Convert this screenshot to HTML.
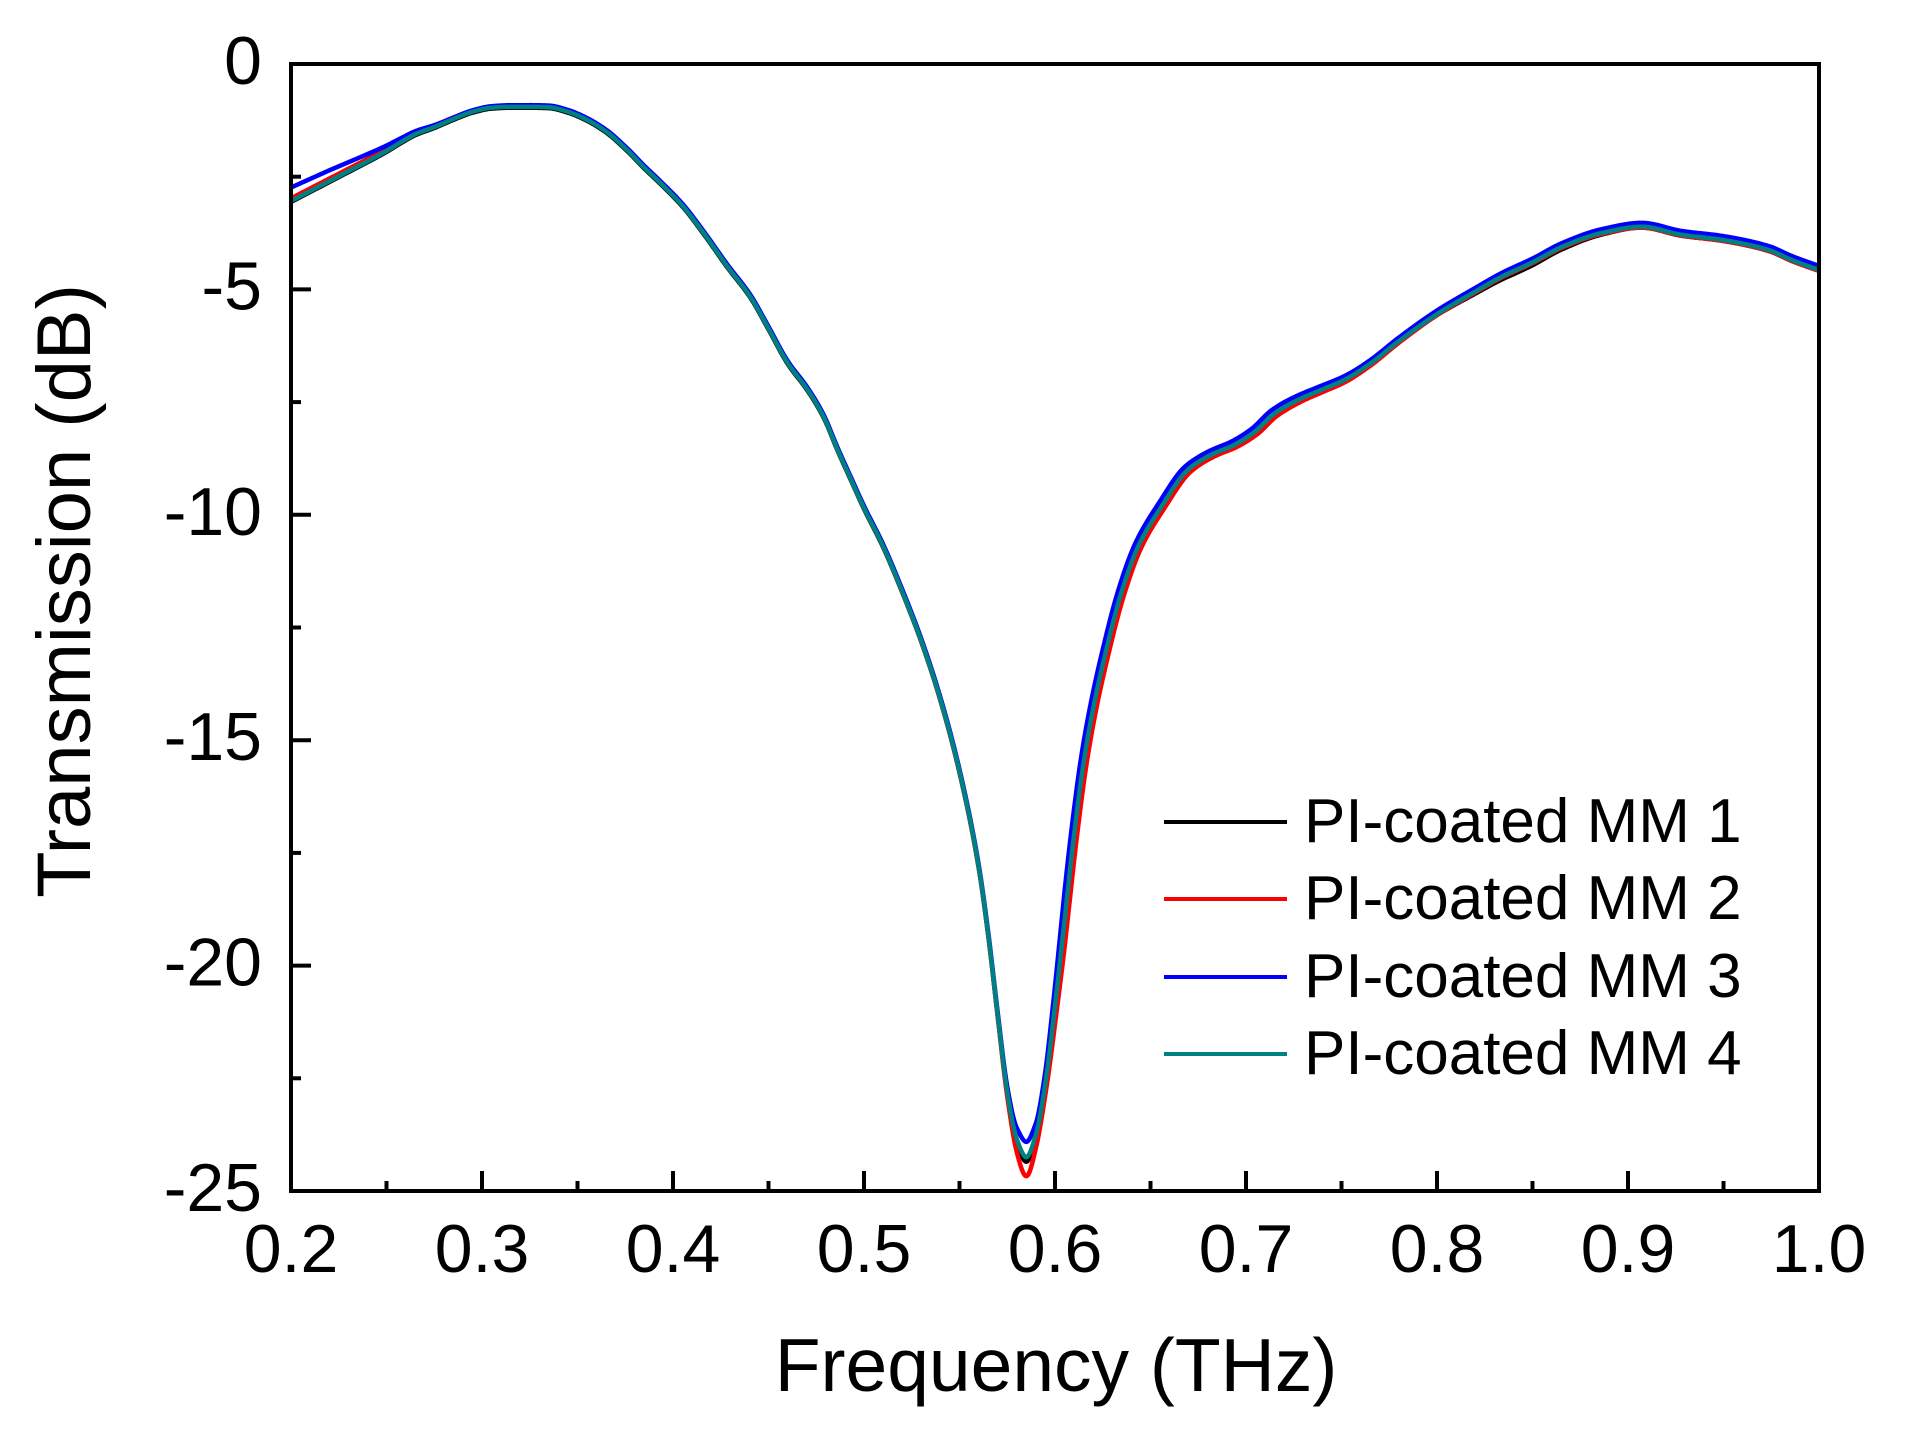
<!DOCTYPE html>
<html>
<head>
<meta charset="utf-8">
<style>
  html,body{margin:0;padding:0;background:#fff;}
  svg{display:block;}
  text{font-family:"Liberation Sans", Arial, sans-serif; fill:#000;}
</style>
</head>
<body>
<svg id="chart" width="1905" height="1431" viewBox="0 0 1905 1431" xmlns="http://www.w3.org/2000/svg">
  <rect x="0" y="0" width="1905" height="1431" fill="#fff"/>
  <defs>
    <clipPath id="plotclip"><rect x="291" y="64" width="1528" height="1127"/></clipPath>
  </defs>

  <!-- curves -->
  <g clip-path="url(#plotclip)" fill="none" stroke-width="4.5" stroke-linejoin="round" stroke-linecap="round">
    <path id="s1" stroke="#000000" d=""/>
    <path id="s2" stroke="#ff0000" d=""/>
    <path id="s3" stroke="#0000ff" d=""/>
    <path id="s4" stroke="#008080" d=""/>
  </g>

  <!-- frame -->
  <rect x="291" y="64" width="1528" height="1127" fill="none" stroke="#000" stroke-width="4"/>

  <!-- x ticks -->
  <g stroke="#000" stroke-width="4">
    <line x1="482" y1="1191" x2="482" y2="1171"/>
    <line x1="673" y1="1191" x2="673" y2="1171"/>
    <line x1="864" y1="1191" x2="864" y2="1171"/>
    <line x1="1055" y1="1191" x2="1055" y2="1171"/>
    <line x1="1246" y1="1191" x2="1246" y2="1171"/>
    <line x1="1437" y1="1191" x2="1437" y2="1171"/>
    <line x1="1628" y1="1191" x2="1628" y2="1171"/>
    <line x1="386.5" y1="1191" x2="386.5" y2="1181"/>
    <line x1="577.5" y1="1191" x2="577.5" y2="1181"/>
    <line x1="768.5" y1="1191" x2="768.5" y2="1181"/>
    <line x1="959.5" y1="1191" x2="959.5" y2="1181"/>
    <line x1="1150.5" y1="1191" x2="1150.5" y2="1181"/>
    <line x1="1341.5" y1="1191" x2="1341.5" y2="1181"/>
    <line x1="1532.5" y1="1191" x2="1532.5" y2="1181"/>
    <line x1="1723.5" y1="1191" x2="1723.5" y2="1181"/>
  </g>
  <!-- y ticks -->
  <g stroke="#000" stroke-width="4">
    <line x1="291" y1="289.4" x2="311" y2="289.4"/>
    <line x1="291" y1="514.8" x2="311" y2="514.8"/>
    <line x1="291" y1="740.2" x2="311" y2="740.2"/>
    <line x1="291" y1="965.6" x2="311" y2="965.6"/>
    <line x1="291" y1="176.7" x2="301" y2="176.7"/>
    <line x1="291" y1="402.1" x2="301" y2="402.1"/>
    <line x1="291" y1="627.5" x2="301" y2="627.5"/>
    <line x1="291" y1="852.9" x2="301" y2="852.9"/>
    <line x1="291" y1="1078.3" x2="301" y2="1078.3"/>
  </g>

  <!-- y tick labels -->
  <g font-size="68" text-anchor="end">
    <text x="262" y="84">0</text>
    <text x="262" y="309.4">-5</text>
    <text x="262" y="534.8">-10</text>
    <text x="262" y="760.2">-15</text>
    <text x="262" y="985.6">-20</text>
    <text x="262" y="1211">-25</text>
  </g>
  <!-- x tick labels -->
  <g font-size="68" text-anchor="middle">
    <text x="291" y="1272">0.2</text>
    <text x="482" y="1272">0.3</text>
    <text x="673" y="1272">0.4</text>
    <text x="864" y="1272">0.5</text>
    <text x="1055" y="1272">0.6</text>
    <text x="1246" y="1272">0.7</text>
    <text x="1437" y="1272">0.8</text>
    <text x="1628" y="1272">0.9</text>
    <text x="1819" y="1272">1.0</text>
  </g>

  <!-- axis titles -->
  <text x="1056" y="1391" font-size="75" text-anchor="middle">Frequency (THz)</text>
  <text transform="translate(90,591) rotate(-90)" font-size="76" text-anchor="middle">Transmission (dB)</text>

  <!-- legend -->
  <g stroke-width="4">
    <line x1="1164" y1="822" x2="1287" y2="822" stroke="#000000"/>
    <line x1="1164" y1="899" x2="1287" y2="899" stroke="#ff0000"/>
    <line x1="1164" y1="977" x2="1287" y2="977" stroke="#0000ff"/>
    <line x1="1164" y1="1054" x2="1287" y2="1054" stroke="#008080"/>
  </g>
  <g font-size="62">
    <text x="1304" y="842">PI-coated MM 1</text>
    <text x="1304" y="919">PI-coated MM 2</text>
    <text x="1304" y="997">PI-coated MM 3</text>
    <text x="1304" y="1074">PI-coated MM 4</text>
  </g>
</svg>

<script>
(function(){
  var X0=291,X1=1819,Y0=64,Y1=1191;
  function px(x){return X0+(x-0.2)/0.8*(X1-X0);}
  function py(y){return Y0+(-y)/25*(Y1-Y0);}

  var base=[[0.2,-3.04],[0.21,-2.82],[0.22,-2.6],[0.23,-2.38],[0.24,-2.16],[0.25,-1.93],[0.257,-1.75],
    [0.265,-1.56],[0.275,-1.4],[0.285,-1.22],[0.295,-1.06],[0.305,-0.97],[0.315,-0.95],[0.325,-0.95],
    [0.335,-0.96],[0.345,-1.06],[0.355,-1.24],[0.365,-1.5],[0.376,-1.91],[0.385,-2.3],[0.3934,-2.64],
    [0.4055,-3.17],[0.416,-3.75],[0.4286,-4.5],[0.4406,-5.17],[0.4495,-5.83],[0.46,-6.63],[0.4705,-7.23],
    [0.4789,-7.83],[0.4862,-8.56],[0.493,-9.2],[0.5,-9.85],[0.51,-10.7],[0.52,-11.7],[0.53,-12.8],
    [0.54,-14.1],[0.55,-15.7],[0.56,-17.8],[0.565,-19.3],[0.57,-21.1],[0.575,-22.8],[0.58,-23.85],
    [0.585,-24.25],[0.59,-23.75],[0.595,-22.6],[0.6,-20.9],[0.605,-19.0],[0.61,-17.1],[0.615,-15.5],
    [0.62,-14.3],[0.6257,-13.2],[0.6346,-11.75],[0.6435,-10.71],[0.6556,-9.83],[0.6697,-9.0],
    [0.6818,-8.67],[0.6939,-8.45],[0.7044,-8.17],[0.7148,-7.76],[0.7274,-7.45],[0.7394,-7.23],
    [0.7515,-7.01],[0.765,-6.65],[0.78,-6.15],[0.8,-5.55],[0.82,-5.05],[0.8338,-4.72],[0.85,-4.4],
    [0.8653,-4.06],[0.8862,-3.75],[0.9072,-3.61],[0.928,-3.79],[0.949,-3.9],[0.9738,-4.13],
    [0.9858,-4.35],[1.0,-4.57]];

  function mono(pts){
    var n=pts.length,xs=[],ys=[],d=[],m=[],i;
    for(i=0;i<n;i++){xs.push(pts[i][0]);ys.push(pts[i][1]);}
    for(i=0;i<n-1;i++) d[i]=(ys[i+1]-ys[i])/(xs[i+1]-xs[i]);
    m[0]=d[0]; m[n-1]=d[n-2];
    for(i=1;i<n-1;i++){
      if(d[i-1]*d[i]<=0) m[i]=0;
      else{
        var h0=xs[i]-xs[i-1],h1=xs[i+1]-xs[i];
        var w1=2*h1+h0,w2=h1+2*h0;
        m[i]=(w1+w2)/(w1/d[i-1]+w2/d[i]);
      }
    }
    return function(x){
      if(x<=xs[0]) return ys[0];
      if(x>=xs[n-1]) return ys[n-1];
      var k=0; while(k<n-2 && x>xs[k+1]) k++;
      var h=xs[k+1]-xs[k],t=(x-xs[k])/h,t2=t*t,t3=t2*t;
      return (2*t3-3*t2+1)*ys[k]+(t3-2*t2+t)*h*m[k]+(-2*t3+3*t2)*ys[k+1]+(t3-t2)*h*m[k+1];
    };
  }
  function lin(pts){
    return function(x){
      if(x<=pts[0][0]) return pts[0][1];
      for(var i=0;i<pts.length-1;i++){
        if(x<=pts[i+1][0]){
          var t=(x-pts[i][0])/(pts[i+1][0]-pts[i][0]);
          return pts[i][1]+t*(pts[i+1][1]-pts[i][1]);
        }
      }
      return pts[pts.length-1][1];
    };
  }
  var B=mono(base);
  function g(x){var u=(x-0.585)/0.008;return Math.exp(-u*u);}

  var series={
    s1:{sx:lin([[0.2,0],[1,0]]), dy:lin([[0.2,-0.02],[0.8,-0.02],[0.84,-0.07],[0.87,-0.05],[0.9,-0.02],[1,-0.02]]), dip:-0.08},
    s2:{sx:lin([[0.2,0],[0.59,0],[0.605,-0.0015],[0.72,-0.0015],[0.76,0],[1,0]]),
        dy:lin([[0.2,0.06],[0.26,0.05],[0.3,0.02],[0.5,0],[0.62,-0.03],[0.76,-0.05],[0.8,-0.02],[1,-0.02]]), dip:-0.4},
    s3:{sx:lin([[0.2,0],[0.59,0],[0.605,0.0015],[0.72,0.0015],[0.76,0],[1,0]]),
        dy:lin([[0.2,0.3],[0.22,0.24],[0.24,0.16],[0.26,0.08],[0.28,0.03],[0.35,0.04],[0.55,0.05],[0.62,0.07],[0.76,0.08],[1,0.09]]), dip:0.28},
    s4:{sx:lin([[0.2,0],[1,0]]), dy:lin([[0.2,0],[1,0]]), dip:0}
  };

  Object.keys(series).forEach(function(id){
    var s=series[id], d='';
    for(var i=0;i<=1600;i++){
      var x=0.2+i*0.0005;
      var xx=Math.min(1,Math.max(0.2,x+s.sx(x)));
      var y=B(xx)+s.dy(x)+s.dip*g(x);
      d+=(i?'L':'M')+px(x).toFixed(2)+','+py(y).toFixed(2);
    }
    document.getElementById(id).setAttribute('d',d);
  });
})();
</script>
</body>
</html>
